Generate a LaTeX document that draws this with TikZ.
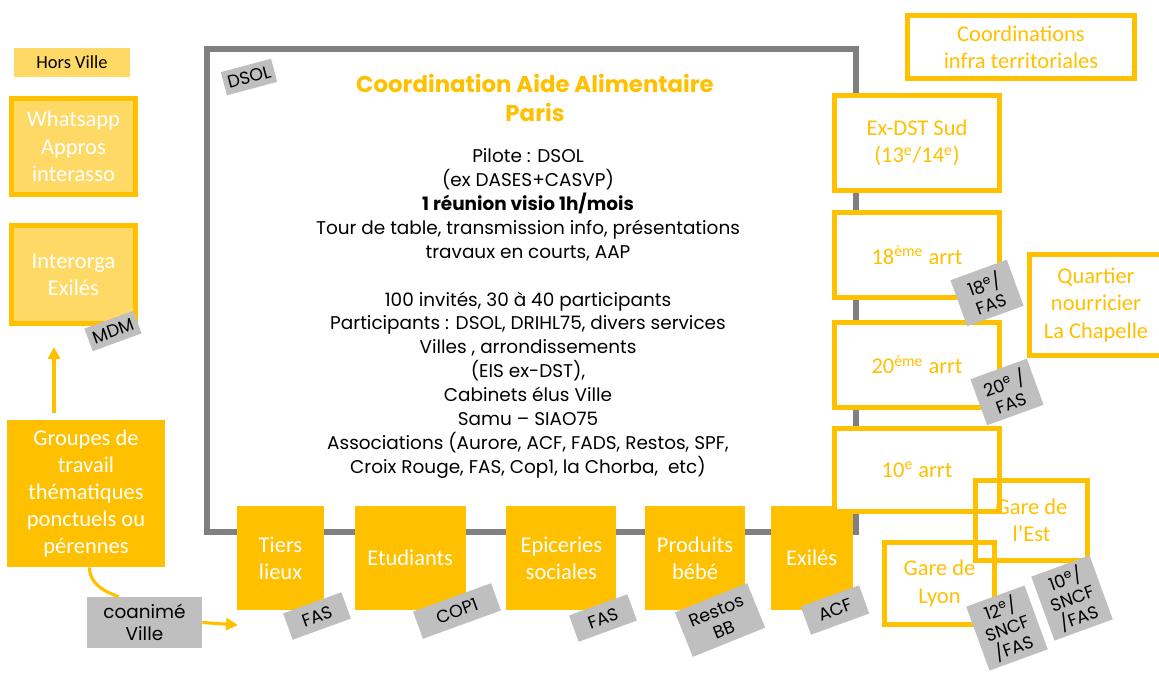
\documentclass[tikz,border=0pt]{standalone}
\usepackage{fontspec}
\setmainfont{Poppins}
\newfontfamily\carlito{Carlito}
\usetikzlibrary{arrows.meta, positioning}
\definecolor{jaune}{RGB}{255,192,0}
\definecolor{jauneclair}{RGB}{255,217,102}
\definecolor{gristag}{RGB}{191,191,191}
\definecolor{griscadre}{RGB}{128,128,128}

\begin{document}
\begin{tikzpicture}[
  x=0.02cm, y=-0.02cm,
  node distance=0.6cm,
  cadre/.style={draw=griscadre, line width=3pt},
  titre/.style={text=jaune, align=center, font=\bfseries\fontsize{13}{17}\selectfont},
  corps/.style={align=center, font=\fontsize{10.5}{13.6}\selectfont},
  plein/.style={fill=jaune, text=white, align=center, inner sep=0pt, font=\carlito\fontsize{12.8}{15.5}\selectfont},
  clair/.style={plein, fill=jauneclair, draw=jaune, line width=2.8pt},
  territoire/.style={plein, fill=white, draw=jaune, text=jaune, line width=2.8pt},
  gare/.style={territoire, fill=none},
  etiquette/.style={fill=gristag, align=center, inner sep=0pt, rotate=#1, font=\fontsize{10}{11.5}\selectfont},
  etiquette/.default=20,
  lien/.style={draw=jaune, line width=1.8pt},
  fleche/.style={lien, -{Triangle[length=2.4mm, width=2.4mm]}}
]
\useasboundingbox (0,0) rectangle (1159,673);

% cadre central
\node[cadre, minimum width=12.98cm, minimum height=9.66cm] (cadre) at (531.5,290.5) {};
\node[titre] (titre) at (535,98) {Coordination Aide Alimentaire\\Paris};
\node[corps] (corps) at (528,313.5) {Pilote : DSOL\\(ex DASES+CASVP)\\\textbf{1 réunion visio 1h/mois}\\Tour de table, transmission info, présentations\\travaux en courts, AAP\\[13.6pt]100 invités, 30 à 40 participants\\Participants : DSOL, DRIHL75, divers services\\Villes , arrondissements\\(EIS ex-DST),\\Cabinets élus Ville\\Samu – SIAO75\\Associations (Aurore, ACF, FADS, Restos, SPF,\\ Croix Rouge, FAS, Cop1, la Chorba,~~etc)};
\node[etiquette=15, minimum width=1.04cm, minimum height=0.48cm] (dsol) at (249,77) {DSOL};

% colonne gauche
\node[fill=jauneclair, minimum width=2.32cm, minimum height=0.58cm, font=\carlito\fontsize{10.5}{12}\selectfont] (horsville) at (72,62.5) {Hors Ville};
\node[clair, minimum width=2.48cm, minimum height=1.92cm] (whatsapp) at (73.5,146.5) {Whatsapp\\Appros\\interasso};
\node[clair, minimum width=2.48cm, minimum height=1.96cm] (interorga) at (73.5,274.5) {Interorga\\Exilés};
\node[etiquette, minimum width=1.04cm, minimum height=0.48cm] (mdm) at (113,331) {MDM};
\node[plein, minimum width=3.16cm, minimum height=2.94cm] (groupes) at (86,493.5) {Groupes de\\travail\\thématiques\\ponctuels ou\\pérennes};
\node[etiquette=0, minimum width=2.3cm, minimum height=1.02cm, font=\fontsize{10.5}{12.5}\selectfont] (coanime) at (144.5,622.5) {coanimé\\Ville};
\coordinate (versinter) at (54,347);
\coordinate (verstiers) at (238,625);
\draw[fleche] ([yshift=4pt]groupes.north -| versinter) -- (versinter);
\draw[lien] ([xshift=2pt]groupes.south) to[out=-90, in=160] ([xshift=-0.52cm]coanime.north);
\draw[fleche] (coanime.east) -- (verstiers);

% groupes du bas
\node[plein, minimum width=1.74cm, minimum height=2.08cm] (tiers) at (280.5,558) {Tiers\\lieux};
\node[plein, minimum width=2.22cm, minimum height=2.08cm, right=0.6cm of tiers] (etudiants) {Etudiants};
\node[plein, minimum width=2.2cm, minimum height=2.08cm, right=0.8cm of etudiants] (epiceries) {Epiceries\\sociales};
\node[plein, minimum width=2cm, minimum height=2.08cm, right=0.56cm of epiceries] (produits) {Produits\\bébé};
\node[plein, minimum width=1.64cm, minimum height=2.08cm, right=0.5cm of produits] (exiles) {Exilés};
\node[etiquette, minimum width=1.24cm, minimum height=0.56cm] (fas1) at (317,616) {FAS};
\node[etiquette, minimum width=1.66cm, minimum height=0.58cm] (cop1) at (457,611) {COP1};
\node[etiquette, minimum width=1.24cm, minimum height=0.56cm] (fas2) at (603,618) {FAS};
\node[etiquette=22, minimum width=1.56cm, minimum height=0.96cm] (restos) at (720,620) {Restos\\BB};
\node[etiquette, minimum width=1.24cm, minimum height=0.6cm] (acf) at (835,610) {ACF};

% coordinations territoriales
\node[territoire, minimum width=4.54cm, minimum height=1.26cm] (infra) at (1021,47) {Coordinations\\infra territoriales};
\node[territoire, minimum width=3.3cm, minimum height=1.9cm] (exdst) at (917,143) {Ex-DST Sud\\(13\textsuperscript{e}/14\textsuperscript{e})};
\node[territoire, minimum width=3.3cm, minimum height=1.7cm, below=0.34cm of exdst] (arrt18) {18\textsuperscript{ème} arrt};
\node[territoire, minimum width=3.3cm, minimum height=1.7cm, below=0.4cm of arrt18] (arrt20) {20\textsuperscript{ème} arrt};
\node[territoire, minimum width=3.3cm, minimum height=1.66cm, below=0.32cm of arrt20] (arrt10) {10\textsuperscript{e} arrt};
\node[territoire, minimum width=2.66cm, minimum height=2.02cm] (quartier) at (1096,305) {Quartier\\nourricier\\La Chapelle};
\node[gare, minimum width=2.24cm, minimum height=1.6cm] (garest) at (1031.5,520.5) {Gare de\\l’Est};
\node[gare, minimum width=2.2cm, minimum height=1.64cm] (garelyon) at (939.5,583.5) {Gare de\\Lyon};
\node[etiquette, minimum width=1.2cm, minimum height=0.98cm] (tag18) at (987,293) {18\textsuperscript{e}/\\FAS};
\node[etiquette, minimum width=1.2cm, minimum height=0.98cm] (tag20) at (1007,392) {20\textsuperscript{e} /\\FAS};
\node[etiquette, minimum width=1.24cm, minimum height=1.36cm] (tag12) at (1007,628) {12\textsuperscript{e}/\\SNCF\\/FAS};
\node[etiquette, minimum width=1.24cm, minimum height=1.36cm] (tag10) at (1072,598) {10\textsuperscript{e}/\\SNCF\\/FAS};
\end{tikzpicture}
\end{document}
